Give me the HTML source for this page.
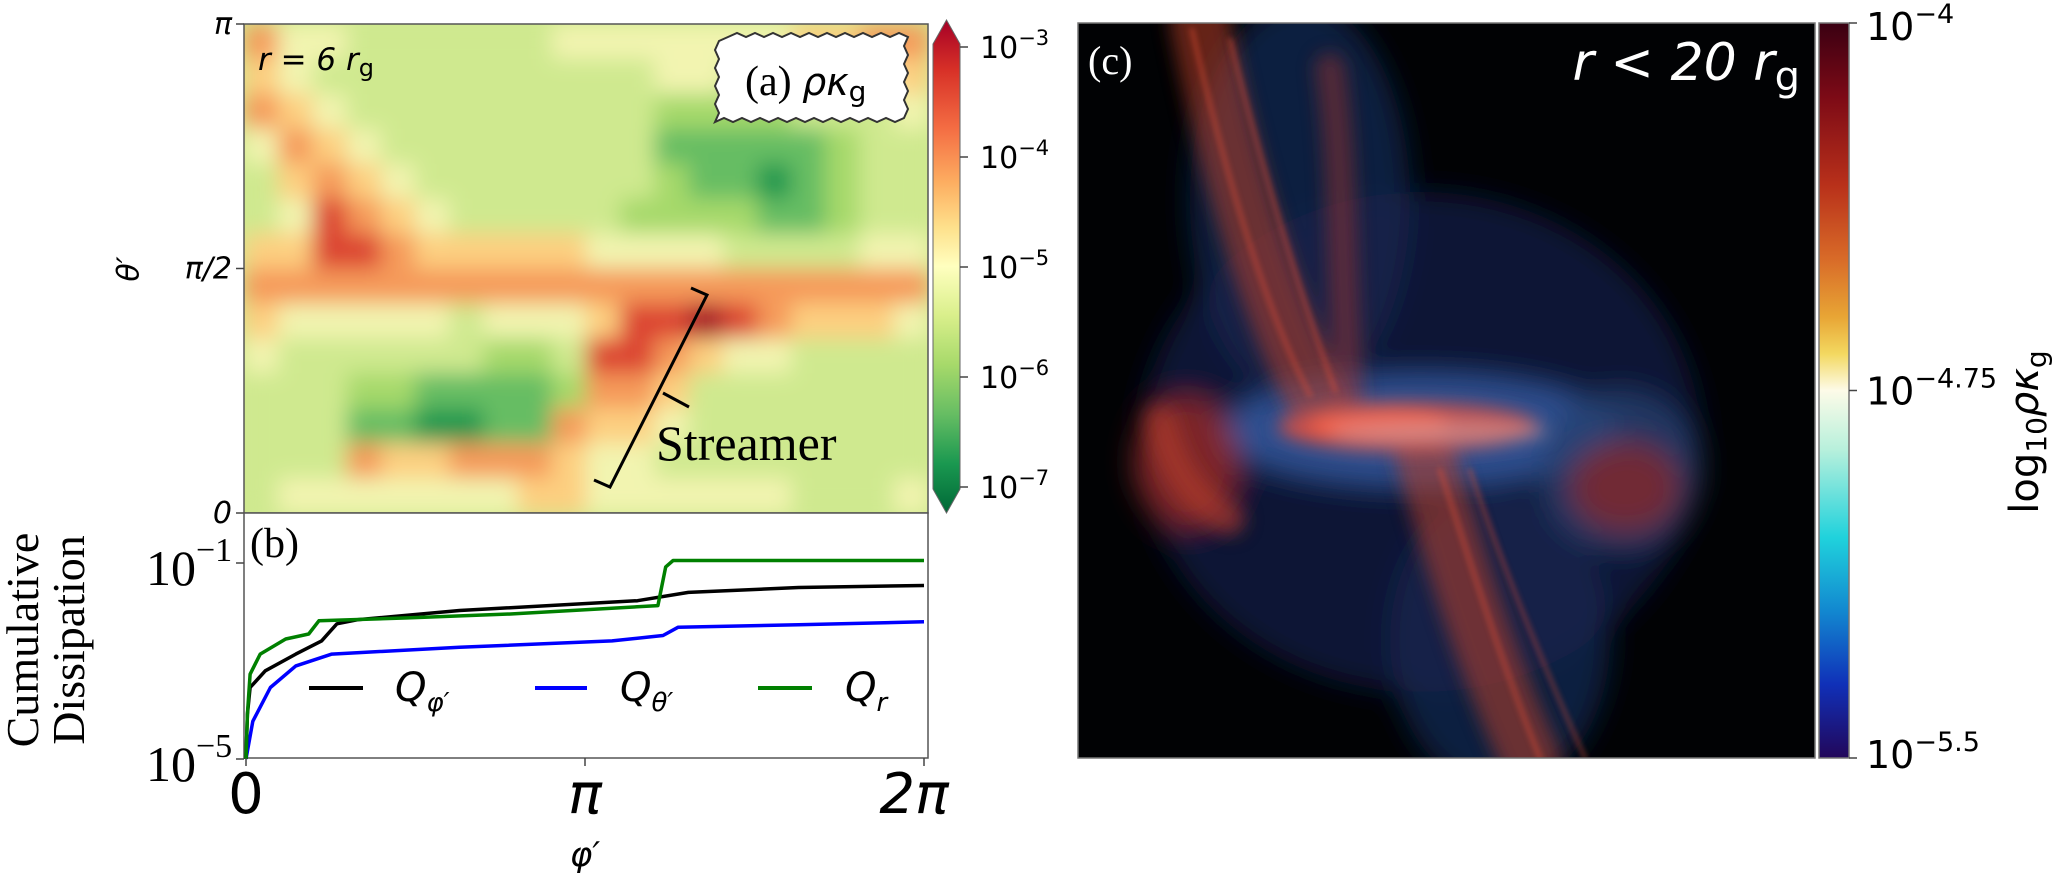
<!DOCTYPE html>
<html><head><meta charset="utf-8"><style>
html,body{margin:0;padding:0;background:#fff;}
svg{display:block;}
.dv{font-family:"DejaVu Sans","Liberation Sans",sans-serif;}
.tm{font-family:"Liberation Serif","DejaVu Serif",serif;}
</style></head><body>
<svg id="fig" width="2070" height="886" viewBox="0 0 2070 886" xmlns="http://www.w3.org/2000/svg">
<defs>
<filter id="blurA" x="0" y="0" width="1" height="1"><feGaussianBlur stdDeviation="11" edgeMode="duplicate"/></filter>
<filter id="blurC" x="-50%" y="-50%" width="200%" height="200%"><feGaussianBlur stdDeviation="14"/></filter>
<filter id="blurS" x="-50%" y="-50%" width="200%" height="200%"><feGaussianBlur stdDeviation="9"/></filter>
<filter id="blurT" x="-50%" y="-50%" width="200%" height="200%"><feGaussianBlur stdDeviation="3"/></filter>
<clipPath id="clipA"><rect x="244" y="24" width="684" height="489"/></clipPath>
<clipPath id="clipC"><rect x="1078" y="23" width="737" height="735"/></clipPath>
<linearGradient id="gradA" x1="0" y1="0" x2="0" y2="1">
<stop offset="0" stop-color="#a50026"/><stop offset="0.1" stop-color="#d73027"/><stop offset="0.22" stop-color="#f46d43"/><stop offset="0.33" stop-color="#fdae61"/><stop offset="0.42" stop-color="#fee08b"/><stop offset="0.5" stop-color="#ffffbf"/><stop offset="0.6" stop-color="#d9ef8b"/><stop offset="0.7" stop-color="#a6d96a"/><stop offset="0.8" stop-color="#66bd63"/><stop offset="0.9" stop-color="#1a9850"/><stop offset="1" stop-color="#006837"/>
</linearGradient>
<linearGradient id="gradC" x1="0" y1="0" x2="0" y2="1">
<stop offset="0" stop-color="#3a0012"/><stop offset="0.1" stop-color="#7c0a16"/><stop offset="0.22" stop-color="#b8301a"/><stop offset="0.32" stop-color="#d86a28"/><stop offset="0.4" stop-color="#e8a535"/><stop offset="0.45" stop-color="#f3d860"/><stop offset="0.5" stop-color="#fdfbe8"/><stop offset="0.58" stop-color="#b8f0dc"/><stop offset="0.7" stop-color="#20d2dc"/><stop offset="0.8" stop-color="#1288d0"/><stop offset="0.9" stop-color="#1030b8"/><stop offset="1" stop-color="#22075a"/>
</linearGradient>
</defs>

<!-- Panel (a) heatmap -->
<g clip-path="url(#clipA)">
<rect x="244" y="24" width="684" height="489" fill="#cfe98f"/>
<g id="cells" filter="url(#blurA)"></g>
</g>
<rect x="244" y="24" width="684" height="489" fill="none" stroke="#555" stroke-width="1.5"/>
<g id="aTicks"></g>
<text class="dv" font-size="30" font-style="italic" transform="translate(130,269) rotate(-90)" text-anchor="middle" dominant-baseline="middle">θ′</text>
<text class="dv" font-size="31" font-style="italic" x="258" y="70">r = 6 r<tspan font-style="normal" font-size="24" dy="6">g</tspan></text>
<g>
<path d="M728,37 l9,-4 9,4 9,-4 9,4 9,-4 9,4 9,-4 9,4 9,-4 9,4 9,-4 9,4 9,-4 9,4 9,-4 9,4 9,-4 9,4 9,-4 9,4 l-4,9 4,9 -4,9 4,9 -4,9 4,9 -4,9 4,9 -4,9 l-9,4 -9,-4 -9,4 -9,-4 -9,4 -9,-4 -9,4 -9,-4 -9,4 -9,-4 -9,4 -9,-4 -9,4 -9,-4 -9,4 -9,-4 -9,4 -9,-4 -9,4 -9,-4 -9,4 l4,-9 -4,-9 4,-9 -4,-9 4,-9 -4,-9 4,-9 -4,-9 4,-9z" fill="#fff" stroke="#333" stroke-width="2"/>
<text class="tm" font-size="42" x="745" y="95">(a) <tspan class="dv" font-style="italic" font-size="38">ρκ</tspan><tspan class="dv" font-size="28" dy="6">g</tspan></text>
</g>
<g stroke="#000" stroke-width="3" fill="none">
<path d="M691,288 L707,295 L610,487 L594,480"/>
<path d="M663,393 L689,407"/>
</g>
<text class="tm" font-size="50" x="656" y="460">Streamer</text>

<!-- colorbar a -->
<g>
<path d="M933,44 L946.5,20 L960,44 L960,489 L946.5,513 L933,489Z" fill="url(#gradA)" stroke="#666" stroke-width="1"/>
</g>
<g id="cbATicks"></g>

<!-- Panel (b) -->
<rect x="244" y="513" width="684" height="245" fill="#fff" stroke="#555" stroke-width="1.5"/>
<g id="bLines"></g>
<g id="bTicks"></g>
<text class="tm" font-size="42" x="250" y="557">(b)</text>
<g class="tm" font-size="46" text-anchor="middle">
<text transform="translate(38,640) rotate(-90)">Cumulative</text>
<text transform="translate(84,640) rotate(-90)">Dissipation</text>
</g>
<text class="dv" font-size="34" font-style="italic" x="585" y="866" text-anchor="middle">φ′</text>
<g>
<g><line x1="309" y1="688" x2="363" y2="688" stroke="#000" stroke-width="4"/><text class="dv" font-size="40" font-style="italic" x="395" y="701">Q<tspan font-size="26" dy="10">φ′</tspan></text></g>
<g><line x1="535" y1="688" x2="587" y2="688" stroke="#0000ff" stroke-width="4"/><text class="dv" font-size="40" font-style="italic" x="620" y="701">Q<tspan font-size="26" dy="10">θ′</tspan></text></g>
<g><line x1="758" y1="688" x2="812" y2="688" stroke="#008000" stroke-width="4"/><text class="dv" font-size="40" font-style="italic" x="845" y="701">Q<tspan font-size="26" dy="10">r</tspan></text></g>
</g>

<!-- Panel (c) -->
<g clip-path="url(#clipC)">
<rect x="1078" y="23" width="737" height="735" fill="#010204"/>
<g filter="url(#blurC)">
<ellipse cx="1421" cy="442" rx="280" ry="250" fill="#0f1a3c" opacity="0.9"/>
<ellipse cx="1300" cy="200" rx="110" ry="200" fill="#14264f" opacity="0.8"/>
<ellipse cx="1500" cy="640" rx="110" ry="150" fill="#14264f" opacity="0.8"/>
<ellipse cx="1420" cy="430" rx="200" ry="55" fill="#2f4f90"/>
<ellipse cx="1620" cy="470" rx="80" ry="80" fill="#24406e" opacity="0.8"/>
<ellipse cx="1186" cy="462" rx="52" ry="65" fill="#8a2a2a" opacity="0.9"/>
<ellipse cx="1625" cy="487" rx="55" ry="45" fill="#7a2a30" opacity="0.9"/>
</g>
<g filter="url(#blurS)" fill="none" stroke-linecap="round">
<path d="M1200,23 C1225,150 1265,300 1317,400" stroke="#b8402c" stroke-width="60" opacity="0.55"/>
<path d="M1330,68 C1345,170 1340,290 1350,400" stroke="#a8382b" stroke-width="30" opacity="0.45"/>
<path d="M1425,455 C1455,560 1485,660 1530,758" stroke="#b8402c" stroke-width="60" opacity="0.55"/>
<path d="M1160,420 C1170,460 1190,500 1230,520" stroke="#b8402c" stroke-width="30" opacity="0.55"/>
</g>
<g filter="url(#blurT)" fill="none" stroke-linecap="round" opacity="0.45">
<path d="M1192,30 C1220,150 1260,300 1310,395" stroke="#e05038" stroke-width="5"/>
<path d="M1230,40 C1260,160 1295,280 1335,390" stroke="#e05038" stroke-width="5"/>
<path d="M1440,470 C1470,560 1500,660 1540,758" stroke="#e05038" stroke-width="5"/>
<path d="M1470,470 C1500,560 1545,670 1585,758" stroke="#e05038" stroke-width="4"/>
</g>
<g filter="url(#blurS)">
<ellipse cx="1408" cy="427" rx="130" ry="24" fill="#c85048"/>
<ellipse cx="1380" cy="425" rx="70" ry="18" fill="#f06048"/>
<ellipse cx="1440" cy="432" rx="110" ry="10" fill="#c8a0a8" opacity="0.6"/>
</g>
</g>
<rect x="1078" y="23" width="737" height="735" fill="none" stroke="#777" stroke-width="1.5"/>
<text class="tm" font-size="40" fill="#fff" x="1088" y="74">(c)</text>
<text class="dv" font-size="52" fill="#fff" font-style="italic" x="1800" y="80" text-anchor="end">r &lt; 20 r<tspan font-style="normal" font-size="40" dy="10">g</tspan></text>
<g>
<rect x="1819" y="23" width="30" height="735" fill="url(#gradC)" stroke="#777" stroke-width="1.5"/>
</g>
<g id="cbCTicks"></g>
<text class="dv" font-size="40" transform="translate(2038,432) rotate(-90)" text-anchor="middle">log<tspan font-size="28" dy="8">10</tspan><tspan dy="-8" font-style="italic">ρκ</tspan><tspan font-size="28" dy="8">g</tspan></text>
</svg>
<script>
// ---- Panel (a) heatmap levels (0 = dark green ... 9 = dark red), rows top (θ'=π) to bottom (θ'=0)
const heatRows = [
"75544444455555556677",
"65444444444455444456",
"76544444444433334445",
"57654444444422222344",
"46765444444432212344",
"45876544444333322344",
"66887666665555444455",
"77777777777777777777",
"65555545556889876665",
"54444443348876554444",
"44433222237764444444",
"44422112276654444444",
"44476677765544444444",
"45555555665555554445"
];
const levelColors = ["#006837","#1a9850","#66bd63","#a6d96a","#cfe98f","#f2f4b0","#fdcf80","#f59a5a","#dc4430","#a50026"];
const aTickLabels = ["π","π/2","0"];
const aTickValues = [1, 0.5, 0];
const cbAExponents = [-3,-4,-5,-6,-7];
// ---- Panel (b) cumulative dissipation, phi in units of π, values as log10
const phiBlack = [0,0.004,0.012,0.057,0.147,0.223,0.268,0.328,0.63,1.155,1.305,1.63,2];
const logBlack = [-5,-4.09,-3.54,-3.2,-2.86,-2.59,-2.24,-2.16,-1.97,-1.77,-1.6,-1.5,-1.46];
const phiBlue = [0,0.02,0.072,0.147,0.253,0.63,1.08,1.23,1.275,1.63,2];
const logBlue = [-5,-4.23,-3.54,-3.1,-2.86,-2.72,-2.59,-2.48,-2.31,-2.26,-2.2];
const phiGreen = [0,0.004,0.012,0.042,0.117,0.185,0.215,0.478,0.78,1.215,1.238,1.26,2];
const logGreen = [-5,-4.09,-3.27,-2.86,-2.55,-2.45,-2.18,-2.12,-2.04,-1.87,-1.08,-0.95,-0.95];
const bYTickExp = [-1,-5];
const bXTickVals = [0,1,2];
const bXTickLabels = ["0","π","2π"];
const cbCExps = ["−4","−4.75","−5.5"];
const cbCVals = [-4,-4.75,-5.5];

const NS="http://www.w3.org/2000/svg";
function mk(tag, parent){const e=document.createElementNS(NS,tag);parent.appendChild(e);return e;}
const aX0=244,aY0=24,aW=684,aH=489;
function aY(v){return aY0+aH*(1-v);}
function bX(phi){return 246+phi*339;}
function bY(lg){return 563-(lg+1)*49;}
function cbAY(ex){return 47+(-3-ex)*110;}
function cbCY(v){return 23+(-4-v)/1.5*735;}

const cells=document.getElementById('cells');
const nR=heatRows.length,nC=heatRows[0].length;
const cw=aW/nC,ch=aH/nR;
heatRows.forEach((row,r)=>{
  for(let c=0;c<nC;c++){
    const e=mk('rect',cells);
    
    
    e.setAttribute('x',aX0+c*cw);e.setAttribute('y',aY0+r*ch);
    e.setAttribute('width',cw+1);e.setAttribute('height',ch+1);
    e.setAttribute('fill',levelColors[+row[c]]);
  }
});
const aT=document.getElementById('aTicks');
aTickValues.forEach((v,i)=>{
  const y=aY(v);
  const l=mk('line',aT);
  
  
  l.setAttribute('x1',236);l.setAttribute('x2',244);l.setAttribute('y1',y);l.setAttribute('y2',y);l.setAttribute('stroke','#444');l.setAttribute('stroke-width',1.5);
  const t=mk('text',aT);
  
  
  t.setAttribute('class','dv');t.setAttribute('font-size','30');t.setAttribute('font-style','italic');
  t.setAttribute('x',232);t.setAttribute('y',y+10);t.setAttribute('text-anchor','end');
  t.textContent=aTickLabels[i];
});
const cA=document.getElementById('cbATicks');
cbAExponents.forEach(ex=>{
  const y=cbAY(ex);
  const l=mk('line',cA);
  
  
  l.setAttribute('x1',960);l.setAttribute('x2',968);l.setAttribute('y1',y);l.setAttribute('y2',y);l.setAttribute('stroke','#444');l.setAttribute('stroke-width',1.5);
  const t=mk('text',cA);
  
  
  t.setAttribute('class','dv');t.setAttribute('font-size','30');
  t.setAttribute('x',980);t.setAttribute('y',y+11);
  t.innerHTML='10<tspan font-size="21" dy="-13">−'+(-ex)+'</tspan>';
});
const bL=document.getElementById('bLines');
function drawSeries(ph,lg,color,name){
  const p=mk('path',bL);
  
  
  p.setAttribute('d',ph.map((v,i)=>(i?'L':'M')+bX(v).toFixed(1)+','+bY(lg[i]).toFixed(1)).join(' '));
  p.setAttribute('fill','none');p.setAttribute('stroke',color);p.setAttribute('stroke-width',3.5);p.setAttribute('stroke-linejoin','round');
}
drawSeries(phiBlue,logBlue,'#0000ff','series-q-theta');
drawSeries(phiBlack,logBlack,'#000000','series-q-phi');
drawSeries(phiGreen,logGreen,'#008000','series-q-r');
const bT=document.getElementById('bTicks');
bYTickExp.forEach(ex=>{
  const y=bY(ex);
  const l=mk('line',bT);
  
  
  l.setAttribute('x1',236);l.setAttribute('x2',244);l.setAttribute('y1',y);l.setAttribute('y2',y);l.setAttribute('stroke','#444');l.setAttribute('stroke-width',1.5);
  const t=mk('text',bT);
  
  
  t.setAttribute('class','tm');t.setAttribute('font-size','50');
  t.setAttribute('x',146);t.setAttribute('y',y+22);
  t.innerHTML='10<tspan font-size="34" dy="-24">−'+(-ex)+'</tspan>';
});
bXTickVals.forEach((v,i)=>{
  const x=bX(v);
  const l=mk('line',bT);
  
  
  l.setAttribute('x1',x);l.setAttribute('x2',x);l.setAttribute('y1',758);l.setAttribute('y2',766);l.setAttribute('stroke','#444');l.setAttribute('stroke-width',1.5);
  const t=mk('text',bT);
  
  
  t.setAttribute('class','dv');t.setAttribute('font-size','56');t.setAttribute('font-style',i?'italic':'normal');
  t.setAttribute('x',i===2?x-10:x);t.setAttribute('y',813);t.setAttribute('text-anchor','middle');
  t.textContent=bXTickLabels[i];
});
const cC=document.getElementById('cbCTicks');
cbCVals.forEach((v,i)=>{
  const y=cbCY(v);
  const l=mk('line',cC);
  
  
  l.setAttribute('x1',1849);l.setAttribute('x2',1857);l.setAttribute('y1',y);l.setAttribute('y2',y);l.setAttribute('stroke','#444');l.setAttribute('stroke-width',1.5);
  const t=mk('text',cC);
  
  
  t.setAttribute('class','dv');t.setAttribute('font-size','38');
  t.setAttribute('x',1866);t.setAttribute('y',i===0?y+17:(i===2?y+10:y+14));
  t.innerHTML='10<tspan font-size="27" dy="-17">'+cbCExps[i]+'</tspan>';
});
</script>
</body></html>
